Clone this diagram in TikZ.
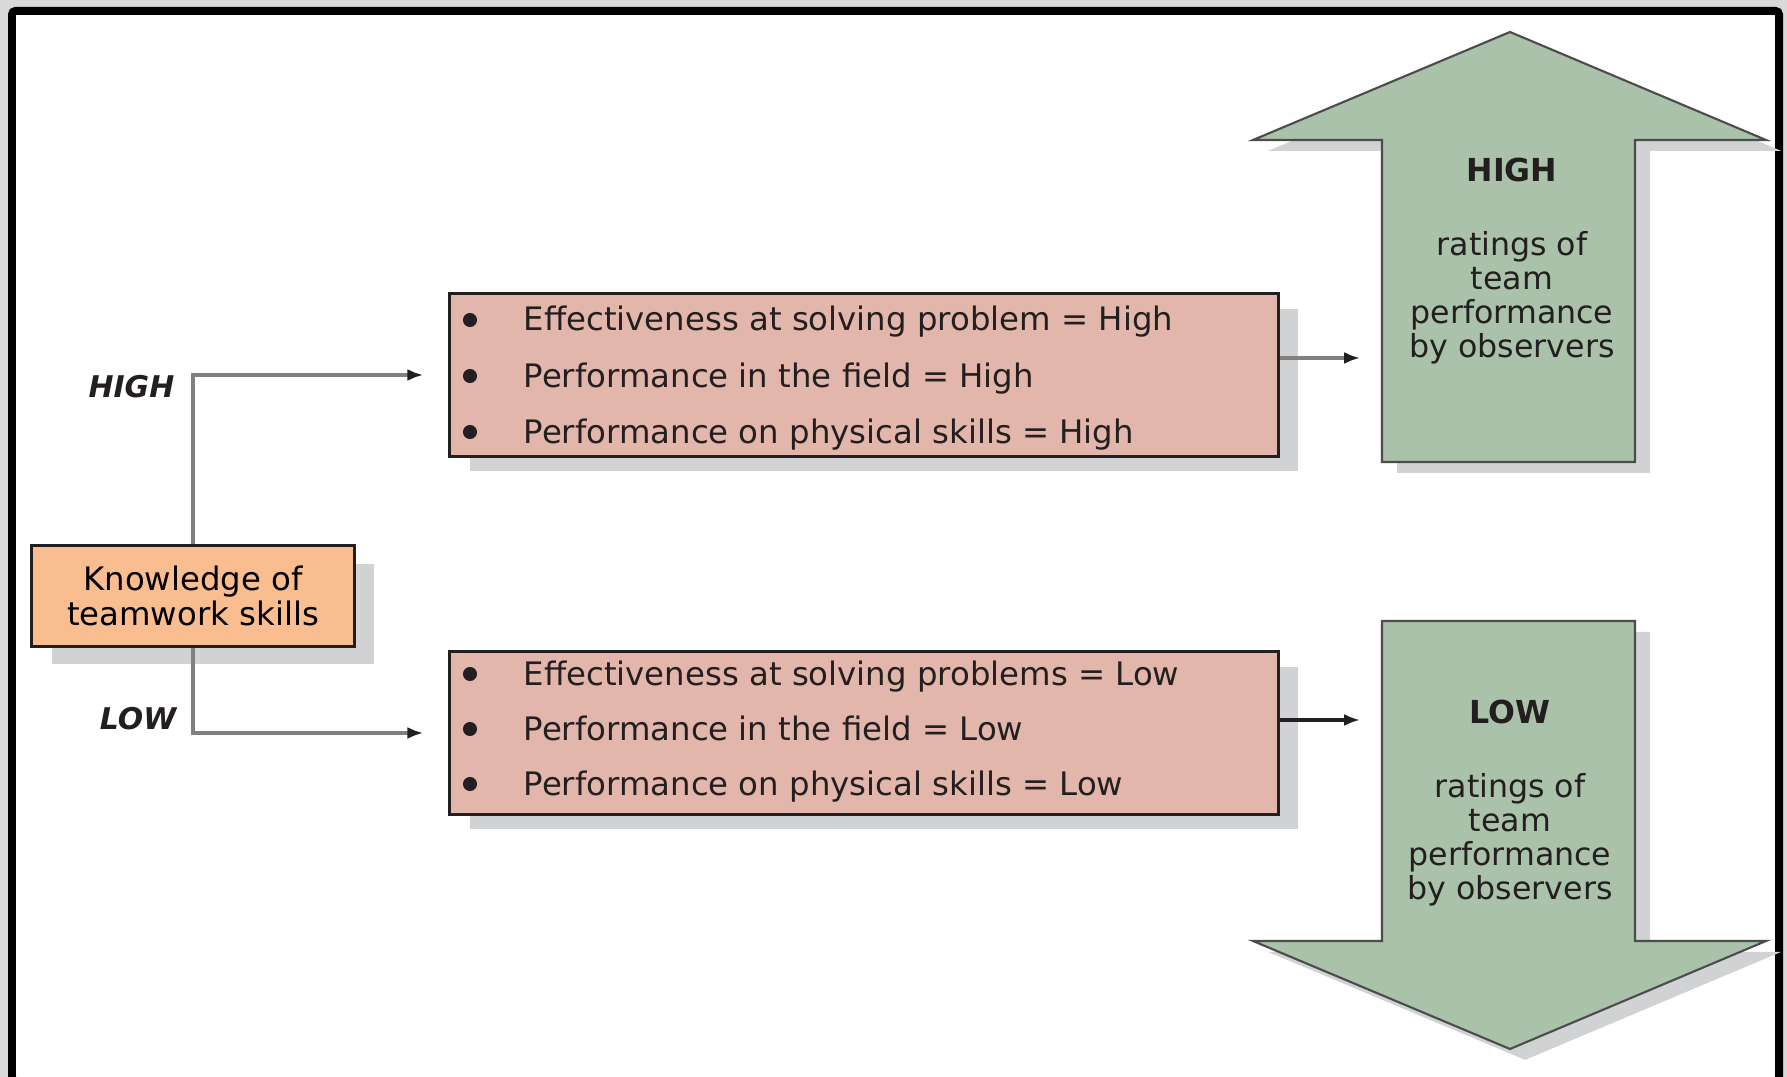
\documentclass[tikz,border=0pt]{standalone}
\usepackage{fontspec}
\setmainfont{DejaVu Sans}
\usetikzlibrary{shadows,arrows.meta}
\definecolor{bggray}{HTML}{D9D9D9}
\definecolor{boxpink}{HTML}{E2B6AB}
\definecolor{korange}{HTML}{F9BD8F}
\definecolor{agreen}{HTML}{AAC2A9}
\definecolor{shgray}{HTML}{D1D2D4}
\definecolor{lgray}{HTML}{808080}
\definecolor{dk}{HTML}{231F20}
\tikzstyle{listbox}=[rectangle,draw=dk,line width=0.85pt,fill=boxpink,minimum width=8.28cm,minimum height=1.62cm,inner sep=0pt,drop shadow={shadow xshift=5.7pt,shadow yshift=-4.3pt,fill=shgray,opacity=1}]
\tikzstyle{kbox}=[rectangle,draw=dk,line width=0.85pt,fill=korange,minimum width=3.22cm,minimum height=1cm,inner sep=0pt,align=center,font=\fontsize{9.2pt}{10pt}\selectfont,drop shadow={shadow xshift=5.7pt,shadow yshift=-5.1pt,fill=shgray,opacity=1}]
\tikzstyle{bigarr}=[draw=black!70,line width=0.6pt,fill=agreen,drop shadow={shadow xshift=4.3pt,shadow yshift=-3.1pt,fill=shgray,opacity=1}]
\tikzstyle{dot}=[circle,fill=dk,inner sep=0pt,minimum size=4pt]
\tikzstyle{itm}=[anchor=base west,inner sep=0pt,text=dk,font=\fontsize{9.2pt}{11pt}\selectfont]
\tikzstyle{atxt}=[align=center,inner sep=0pt,text=dk,font=\fontsize{9pt}{9.65pt}\selectfont]
\tikzstyle{lbl}=[anchor=base east,inner sep=0pt,text=dk,font=\fontsize{8.5pt}{10pt}\selectfont\bfseries\itshape]
\tikzstyle{conn}=[draw=lgray,line width=1.1pt,-{Latex[length=4.5pt,width=3.4pt,color=dk]}]

\begin{document}
\begin{tikzpicture}[x=0.01cm,y=-0.01cm]
\useasboundingbox (0,0) rectangle (1787,1077);
\fill[bggray] (0,0) rectangle (1787,1077);
\draw[line width=2.27pt,rounded corners=1pt,fill=white] (12,11) rectangle (1779,1081);
% big arrows
\draw[bigarr] (1382,462) -- (1382,140) -- (1253,140) -- (1510,32) -- (1766,140) -- (1635,140) -- (1635,462) -- cycle;
\draw[bigarr] (1382,621) -- (1635,621) -- (1635,941) -- (1766,941) -- (1510,1049) -- (1253,941) -- (1382,941) -- cycle;
\node[atxt] (hitxt) at (1512,261) {{\bfseries HIGH}\\[11.5pt]ratings of\\team\\performance\\by observers};
\node[atxt] (lotxt) at (1510,803) {{\bfseries LOW}\\[11.5pt]ratings of\\team\\performance\\by observers};
% boxes
\node[kbox] (know) at (193,596) {Knowledge of\\teamwork skills};
\node[listbox] (hibox) at (864,375) {};
\node[listbox] (lobox) at (864,733) {};
\node[dot] (hd1) at (470,320) {}; \node[dot] (hd2) at (470,376) {}; \node[dot] (hd3) at (470,432) {};
\node[itm] (hi1) at (523,331) {Effectiveness at solving problem = High};
\node[itm] (hi2) at (523,388) {Performance in the field = High};
\node[itm] (hi3) at (523,444) {Performance on physical skills = High};
\node[dot] (ld1) at (470,674) {}; \node[dot] (ld2) at (470,729) {}; \node[dot] (ld3) at (470,784) {};
\node[itm] (lo1) at (523,686) {Effectiveness at solving problems = Low};
\node[itm] (lo2) at (523,741) {Performance in the field = Low};
\node[itm] (lo3) at (523,796) {Performance on physical skills = Low};
\node[lbl] (hilbl) at (175,398) {HIGH};
\node[lbl] (lolbl) at (177,730) {LOW};
% connectors
\coordinate (hiin) at (1360,358);
\coordinate (loin) at (1360,720);
\draw[conn,shorten >=7.1pt] (know) |- (hibox);
\draw[conn,shorten >=7.1pt] (know) |- (lobox);
\draw[conn] (hibox.east |- hiin) -- (hiin);
\draw[conn,draw=dk] (lobox.east |- loin) -- (loin);
\end{tikzpicture}
\end{document}
